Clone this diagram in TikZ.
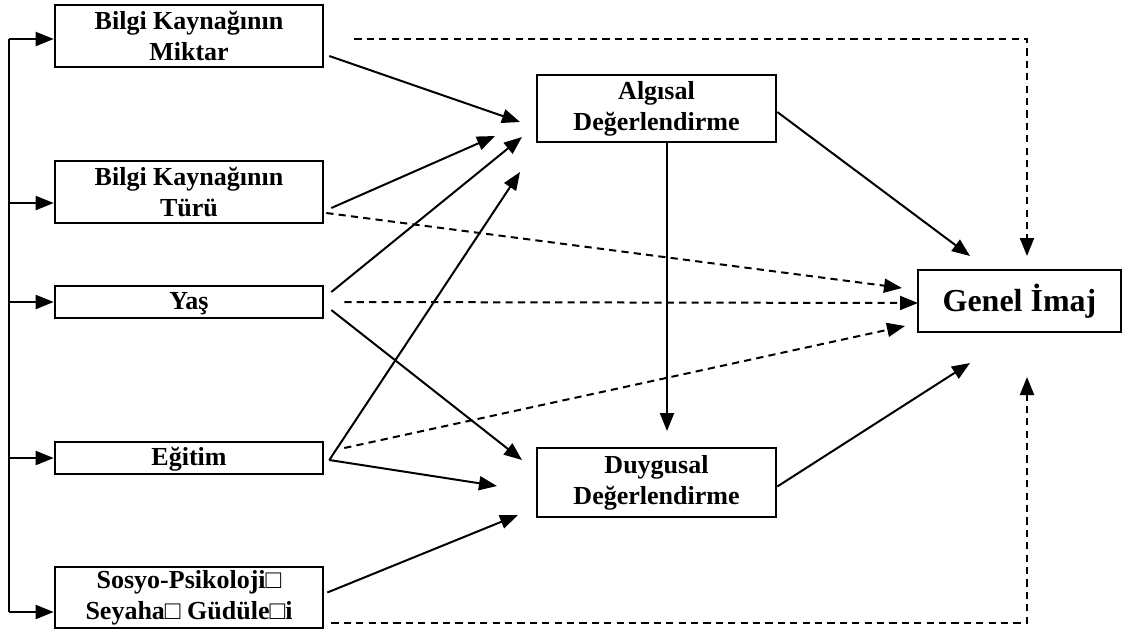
\documentclass[tikz,border=0pt]{standalone}
\usepackage{fontspec}
\setmainfont{Liberation Serif}
\usetikzlibrary{positioning,arrows.meta,calc}

\begin{document}
\begin{tikzpicture}[x=0.5pt, y=-0.5pt,
        factor/.style={rectangle, draw=black, line width=1.3pt, minimum width=134pt, align=center, inner sep=0pt, font=\fontsize{13}{15.5}\selectfont\bfseries},
        evalbox/.style={factor, minimum width=119.5pt},
        imagebox/.style={factor, minimum width=101.5pt, minimum height=31pt, font=\fontsize{16}{19}\selectfont\bfseries},
        arrow/.style={draw=black, line width=1pt, -{Triangle[length=9pt,width=7pt]}},
        dasharrow/.style={arrow, dash pattern=on 3.6pt off 2.6pt}
    ]
        \useasboundingbox (0,0) rectangle (1123,634);

        % factors on the left
        \node [factor, minimum height=31pt] (b1) at (189,36) {Bilgi Kaynağının\\ Miktar};
        \node [factor, minimum height=31pt] (b2) at (189,192) {Bilgi Kaynağının\\ Türü};
        \node [factor, minimum height=16pt, text height=10.5pt] (b3) at (189,302) {Yaş};
        \node [factor, minimum height=16pt, text height=10.5pt] (b4) at (189,458) {Eğitim};
        \node [factor, minimum height=30.5pt] (b5) at (189,597.5) {Sosyo-Psikoloji□\\ Seyaha□ Güdüle□i};

        % evaluations and image
        \node [evalbox, minimum height=33.5pt] (alg) at (656.5,108.5) {Algısal\\ Değerlendirme};
        \node [evalbox, minimum height=34.5pt] (duy) at (656.5,482.5) {Duygusal\\ Değerlendirme};
        \node [imagebox] (gen) at (1019.5,301) {Genel İmaj};

        % left bus
        \coordinate (bus) at (9,0);
        \coordinate (in1) at ($(b1.west)+(0,3)$);
        \coordinate (in2) at ($(b2.west)+(0,11)$);
        \coordinate (in3) at (b3.west);
        \coordinate (in4) at (b4.west);
        \coordinate (in5) at ($(b5.west)+(0,14.5)$);
        \draw [line width=1pt] (bus |- in1) -- (bus |- in5);
        \foreach \n in {in1,in2,in3,in4,in5}
            \draw [arrow] (bus |- \n) -- (\n);

        % free arrow ends
        \coordinate (toA1) at (520,122);
        \coordinate (toA2) at (495,136);
        \coordinate (toA3) at (522,137);
        \coordinate (toA4) at (520,172);
        \coordinate (toD1) at (497,486);
        \coordinate (toD2) at (522,460);
        \coordinate (toD3) at (518,515);
        \coordinate (toD4) at (667,431);
        \coordinate (toG1) at (970,256);
        \coordinate (toG2) at (970,363);
        \coordinate (toG3) at (1027,256);
        \coordinate (toG4) at (902,288);
        \coordinate (toG5) at (918,303);
        \coordinate (toG6) at (905,326);
        \coordinate (toG7) at (1027,377);

        % solid paths
        \draw [arrow] ($(b1.east)+(5,20)$) -- (toA1);
        \draw [arrow] ($(b2.east)+(7,16)$) -- (toA2);
        \draw [arrow] ($(b3.east)+(7,-10)$) -- (toA3);
        \draw [arrow] ($(b4.east)+(5,2)$) -- (toA4);
        \draw [arrow] ($(b4.east)+(5,2)$) -- (toD1);
        \draw [arrow] ($(b3.east)+(7,8)$) -- (toD2);
        \draw [arrow] ($(b5.east)+(3,-5)$) -- (toD3);
        \draw [arrow] ($(alg.south)+(10.5,0)$) -- (toD4);
        \draw [arrow] ($(alg.east)+(0,3.5)$) -- (toG1);
        \draw [arrow] ($(duy.east)+(0,4)$) -- (toG2);

        % dashed paths
        \draw [dasharrow] ($(b1.east)+(30,3)$) -| (toG3);
        \draw [dasharrow] ($(b2.east)+(2,21)$) -- (toG4);
        \draw [dasharrow] ($(b3.east)+(20,0)$) -- (toG5);
        \draw [dasharrow] ($(b4.east)+(20,-10)$) -- (toG6);
        \draw [dasharrow] ($(b5.east)+(7,25)$) -| (toG7);
    \end{tikzpicture}
\end{document}
